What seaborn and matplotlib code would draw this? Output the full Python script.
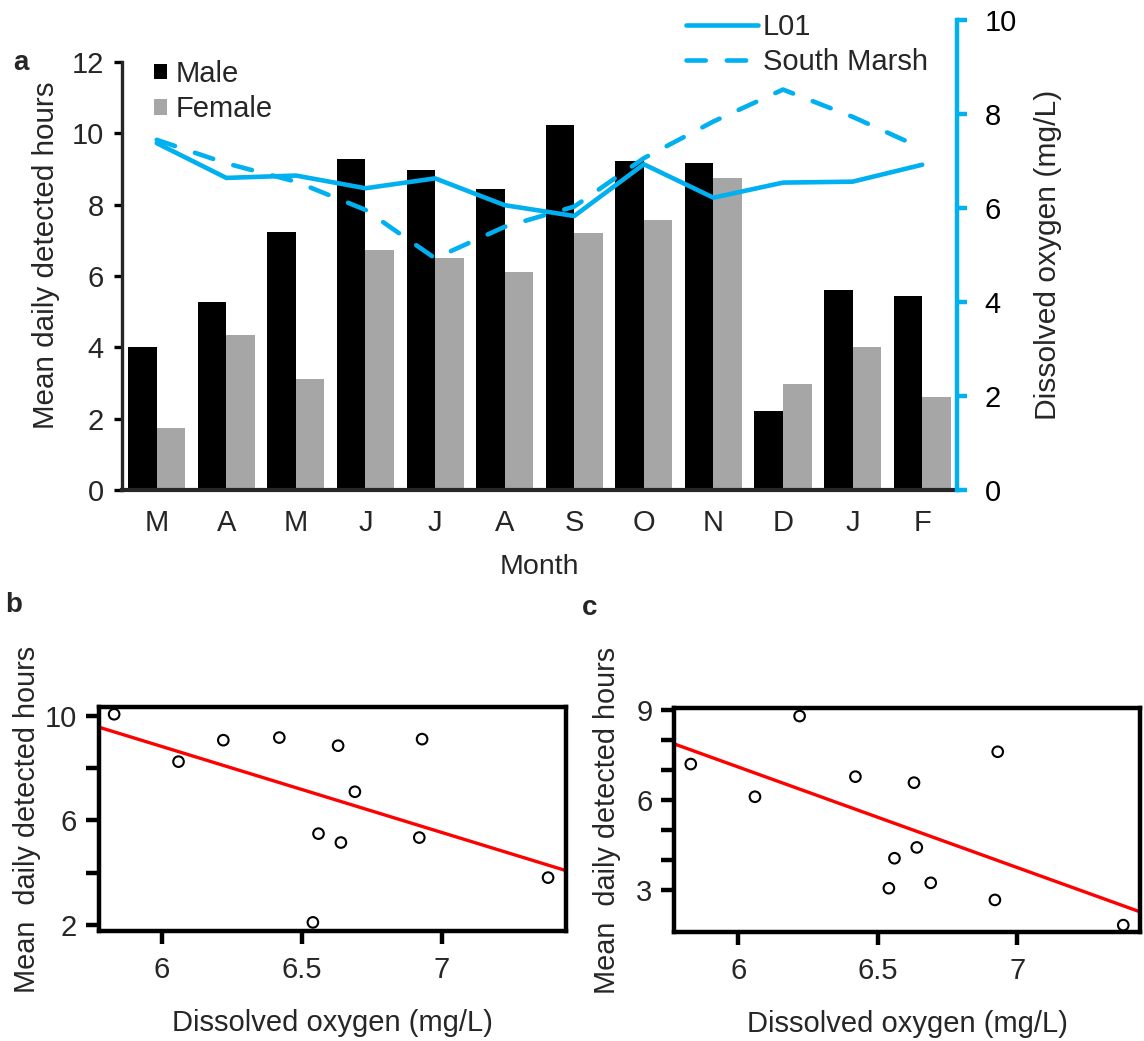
import numpy as np
import pandas as pd
import matplotlib
matplotlib.use("Agg")
import matplotlib.pyplot as plt
import seaborn as sns

# ---------------- data ----------------
months = ["Mar", "Apr", "May", "Jun", "Jul", "Aug", "Sep", "Oct", "Nov", "Dec", "Jan", "Feb"]
month_labels = ["M", "A", "M", "J", "J", "A", "S", "O", "N", "D", "J", "F"]
male_hours = [4.00, 5.27, 7.24, 9.28, 8.98, 8.43, 10.22, 9.22, 9.18, 2.21, 5.60, 5.45]
female_hours = [1.73, 4.34, 3.10, 6.73, 6.50, 6.11, 7.21, 7.57, 8.76, 2.98, 4.02, 2.62]
do_l01 = [7.38, 6.64, 6.69, 6.42, 6.63, 6.06, 5.83, 6.93, 6.22, 6.54, 6.56, 6.92]
do_south_marsh = [7.45, 6.95, 6.56, 5.96, 4.93, 5.60, 6.03, 7.06, 7.84, 8.52, 7.94, 7.27]
# values as plotted in the scatter panels (b: male, c: female)
scatter_male_hours = [3.81, 5.15, 7.09, 9.16, 8.85, 8.24, 10.05, 9.10, 9.06, 2.10, 5.49, 5.34]
scatter_female_hours = [1.83, 4.42, 3.24, 6.78, 6.58, 6.11, 7.20, 7.61, 8.80, 3.06, 4.06, 2.67]

BLUE = "#00B0F0"
GREY = "#A6A6A6"
FS_TICK = 21
FS_LAB = 21

sns.set_theme(style="white")
plt.rcParams["font.family"] = ["Liberation Sans", "DejaVu Sans"]
plt.rcParams["axes.linewidth"] = 2.5

fig = plt.figure(figsize=(11.44, 10.41), dpi=100)

# ---------------- panel a ----------------
ax = fig.add_axes([0.1066, 0.5293, 0.7299, 0.4515])
bars = pd.DataFrame({
    "month": months * 2,
    "hours": male_hours + female_hours,
    "sex": ["Male"] * len(months) + ["Female"] * len(months),
})
sns.barplot(data=bars, x="month", y="hours", hue="sex", order=months,
            hue_order=["Male", "Female"],
            palette={"Male": "black", "Female": GREY},
            width=0.82, linewidth=0, saturation=1, ax=ax)
ax.set_xlim(-0.5, len(months) - 0.5)
ax.set_ylim(0, 12 * 470 / 428)
ax.set_yticks(np.arange(0, 13, 2))
ax.spines["left"].set_bounds(0, 12)
ax.spines["top"].set_visible(False)
ax.spines["right"].set_visible(False)
ax.spines["left"].set_linewidth(2.4)
ax.spines["bottom"].set_linewidth(3.0)
ax.set_xticks(np.arange(len(months)))
ax.set_xticklabels(month_labels)
ax.tick_params(axis="x", length=0, pad=14, labelsize=FS_TICK)
ax.tick_params(axis="y", direction="out", length=6, width=2.4, pad=7,
               labelsize=FS_TICK, left=True, color="black")
ax.set_xlabel("Month", fontsize=20.5, labelpad=12)
ax.set_ylabel("Mean daily detected hours", fontsize=21.3, labelpad=8)
sns.move_legend(ax, loc="upper left", bbox_to_anchor=(0.038, 0.915),
                frameon=False, title=None, fontsize=FS_LAB,
                handlelength=0.45, handleheight=0.45, handletextpad=0.3,
                labelspacing=0.25, borderpad=0, borderaxespad=0)

ax2 = ax.twinx()
lines = pd.DataFrame({
    "pos": list(range(len(months))) * 2,
    "do": do_l01 + do_south_marsh,
    "site": ["L01"] * len(months) + ["South Marsh"] * len(months),
})
sns.lineplot(data=lines, x="pos", y="do", hue="site", style="site",
             palette={"L01": BLUE, "South Marsh": BLUE},
             dashes={"L01": "", "South Marsh": (4.2, 4.6)},
             linewidth=3.3, ax=ax2, dash_capstyle="round",
             solid_capstyle="round")
ax2.set_ylim(0, 10)
ax2.set_xlim(-0.5, len(months) - 0.5)
ax2.set_yticks(np.arange(0, 11, 2))
for s in ["left", "top", "bottom"]:
    ax2.spines[s].set_visible(False)
ax2.spines["right"].set_color(BLUE)
ax2.spines["right"].set_linewidth(3.2)
ax2.tick_params(axis="y", direction="out", length=7, width=3.2, pad=13,
                labelsize=FS_TICK, colors=BLUE, labelcolor="black", right=True)
ax2.set_ylabel("Dissolved oxygen (mg/L)", fontsize=21.6, labelpad=12)
ax2.set_xlabel("")
sns.move_legend(ax2, loc="upper left", bbox_to_anchor=(0.675, 1.014),
                frameon=False, title=None, fontsize=FS_LAB,
                handlelength=2.5, handletextpad=0.15, labelspacing=0.22,
                borderpad=0, borderaxespad=0)

# ---------------- panels b and c ----------------
def scatter_panel(rect, x, y, xlim, ylim, yticks, ylabels, ylabelpad):
    a = fig.add_axes(rect)
    a.set_xlim(*xlim)
    a.set_ylim(*ylim)
    sns.regplot(x=np.array(x), y=np.array(y), ax=a, scatter=False, ci=None,
                truncate=False, line_kws=dict(color="red", linewidth=2.4))
    sns.scatterplot(x=x, y=y, ax=a, marker="o", s=58, facecolor="none",
                    edgecolor="black", linewidth=1.5)
    a.set_xlim(*xlim)
    a.set_ylim(*ylim)
    for s in a.spines.values():
        s.set_visible(True)
        s.set_color("black")
        s.set_linewidth(3.2)
    a.set_xticks([6, 6.5, 7])
    a.set_xticklabels(["6", "6.5", "7"])
    a.set_yticks(yticks)
    a.set_yticklabels(ylabels)
    a.tick_params(axis="both", direction="out", length=9.5, width=3.2,
                  labelsize=FS_TICK, color="black", bottom=True, left=True)
    a.tick_params(axis="x", pad=8)
    a.tick_params(axis="y", pad=6)
    a.set_xlabel("Dissolved oxygen (mg/L)", fontsize=FS_LAB, labelpad=18)
    a.set_ylabel("Mean  daily detected hours", fontsize=20.8, labelpad=ylabelpad)
    return a

axb = scatter_panel([0.0863, 0.1054, 0.4082, 0.2150], do_l01, scatter_male_hours,
                    (5.775, 7.443), (1.76, 10.31),
                    [2, 4, 6, 8, 10], ["2", "", "6", "", "10"], 3)
axc = scatter_panel([0.5892, 0.1044, 0.4073, 0.2158], do_l01, scatter_female_hours,
                    (5.770, 7.440), (1.59, 9.08),
                    [3, 4, 5, 6, 7, 8, 9], ["3", "", "", "6", "", "", "9"], 11)

# panel letters
fig.text(13 / 1144, 1 - 63 / 1041, "a", fontsize=20, fontweight="bold", va="center")
fig.text(5 / 1144, 1 - 605 / 1041, "b", fontsize=20, fontweight="bold", va="center")
fig.text(582 / 1144, 1 - 608 / 1041, "c", fontsize=20, fontweight="bold", va="center")

fig.savefig("out.png", dpi=100)
